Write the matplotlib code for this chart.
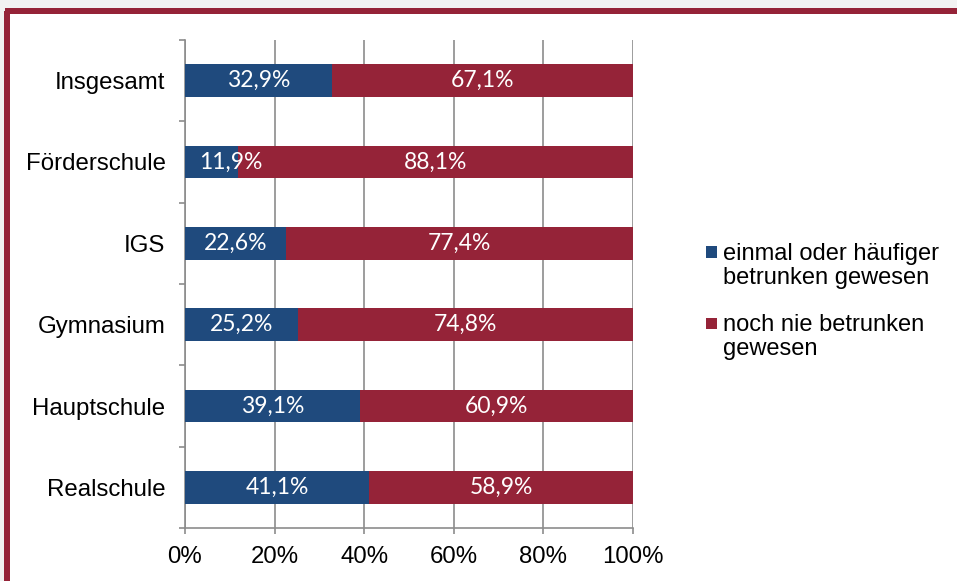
import matplotlib
matplotlib.use("Agg")
import matplotlib.pyplot as plt
from matplotlib.patches import Rectangle
from matplotlib.lines import Line2D
import numpy as np

categories = ["Insgesamt", "Förderschule", "IGS", "Gymnasium", "Hauptschule", "Realschule"]
drunk = [32.9, 11.9, 22.6, 25.2, 39.1, 41.1]
never = [67.1, 88.1, 77.4, 74.8, 60.9, 58.9]
series_names = ["einmal oder häufiger\nbetrunken gewesen", "noch nie betrunken\ngewesen"]
xticks = [0, 20, 40, 60, 80, 100]
xticklabels = ["0%", "20%", "40%", "60%", "80%", "100%"]

BLUE = "#1f4a7d"
RED = "#952338"
GRID = "#8c8c8c"
W, H = 957, 581

fig = plt.figure(figsize=(W / 100, H / 100), dpi=100)
fig.patch.set_facecolor("#f2f2f2")

# white panel with top/left dark red border
fig.add_artist(Rectangle((7.5 / W, 0), 1, 1 - 10.5 / H, transform=fig.transFigure,
                         facecolor="white", edgecolor="none", zorder=-10))
lw_border = 6 * 72 / 100
fig.add_artist(Line2D([7.5 / W, 7.5 / W], [0, 1 - 10.5 / H], transform=fig.transFigure,
                      color=RED, lw=lw_border, solid_capstyle="butt", zorder=-9))
fig.add_artist(Line2D([4.5 / W, 1], [1 - 10.5 / H, 1 - 10.5 / H], transform=fig.transFigure,
                      color=RED, lw=lw_border, solid_capstyle="butt", zorder=-9))

ax = fig.add_axes([185 / W, 1 - 528 / H, (633 - 185) / W, (528 - 40) / H])
ax.set_facecolor("none")

y = np.arange(len(categories))
bh = 0.405
ax.barh(y, drunk, height=bh, color=BLUE, zorder=3)
ax.barh(y, never, left=drunk, height=bh, color=RED, zorder=3)

lab_font = dict(family=["Lato", "DejaVu Sans"], fontsize=16.5, color="white",
                ha="center", va="center", zorder=4)
for yi, a, b in zip(y, drunk, never):
    ax.text(max(a / 2, 10.3), yi, f"{a:.1f}%".replace(".", ","), **lab_font)
    ax.text(a + b / 2, yi, f"{b:.1f}%".replace(".", ","), **lab_font)

ax.set_xlim(0, 100)
ax.set_ylim(len(categories) - 0.5, -0.5)
ax.set_xticks(xticks)
ax.set_xticklabels(xticklabels)
ax.set_yticks(y)
ax.set_yticklabels(categories)
ax.set_yticks(np.arange(len(categories) + 1) - 0.5, minor=True)

tfont = ["Liberation Sans", "DejaVu Sans"]
for t in ax.get_xticklabels() + ax.get_yticklabels():
    t.set_family(tfont)
    t.set_fontsize(17.3)
    t.set_color("black")

ax.tick_params(axis="y", which="major", length=0, pad=14)
ax.tick_params(axis="y", which="minor", length=4.3, width=1.2, color=GRID, direction="out")
ax.tick_params(axis="x", which="major", length=4.3, width=1.2, color=GRID, direction="out", pad=9)

ax.grid(axis="x", color=GRID, linewidth=1.2, zorder=0)
ax.set_axisbelow(True)
for s in ["top", "right"]:
    ax.spines[s].set_visible(False)
for s in ["left", "bottom"]:
    ax.spines[s].set_color(GRID)
    ax.spines[s].set_linewidth(1.2)

# legend (handle aligned to first text line, as in the original)
leg_y = [252, 323]
for name, col, yy in zip(series_names, [BLUE, RED], leg_y):
    fig.add_artist(Rectangle((706 / W, 1 - (yy + 5.5) / H), 11 / W, 11 / H,
                             transform=fig.transFigure, facecolor=col, edgecolor="none"))
    fig.text(723 / W, 1 - (yy - 9) / H, name, family=tfont, fontsize=17,
             ha="left", va="top", linespacing=1.1, color="black")

fig.savefig("out.png", dpi=100, facecolor=fig.get_facecolor())
